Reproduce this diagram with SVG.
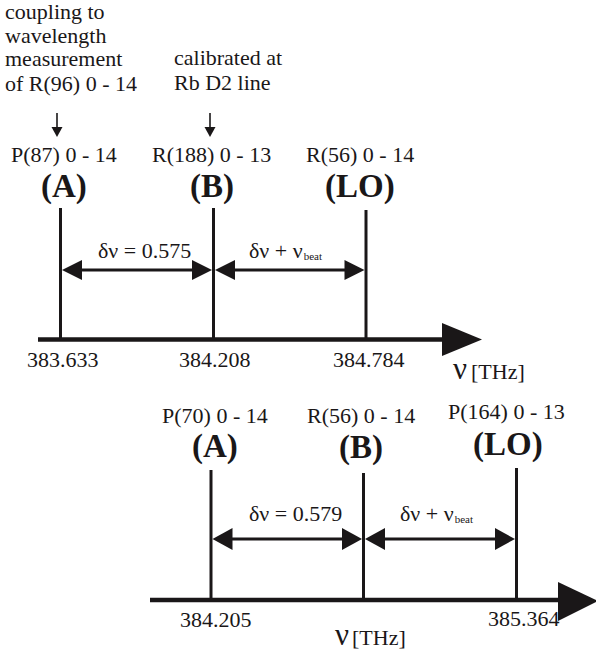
<svg xmlns="http://www.w3.org/2000/svg" width="596" height="652" viewBox="0 0 596 652" font-family="Liberation Serif, Times New Roman, serif">
<style>
  text { font-family: 'Liberation Serif', 'Times New Roman', serif; fill: #1a1718; }
  .t { font-size: 22px; }
  .b { font-size: 33px; font-weight: bold; }
  .nu { font-size: 31px; }
  .sub { font-size: 11px; }
  .line { stroke: #1a1718; stroke-width: 3; fill: none; }
  .axis { stroke: #1a1718; stroke-width: 4.5; fill: none; }
  .dim { stroke: #1a1718; stroke-width: 3; fill: none; }
  .thin { stroke: #1a1718; stroke-width: 1.6; fill: none; }
  .head { fill: #1a1718; }
</style>
<rect width="596" height="652" fill="#ffffff"/>

<!-- Annotations -->
<g id="note-coupling">
  <text class="t" x="5" y="18.5">coupling to</text>
  <text class="t" x="5" y="42.5">wavelength</text>
  <text class="t" x="5" y="66">measurement</text>
  <text class="t" x="5" y="90.5">of R(96) 0 - 14</text>
</g>
<g id="note-calibrated">
  <text class="t" x="174" y="65">calibrated at</text>
  <text class="t" x="174" y="89.5">Rb D2 line</text>
</g>

<!-- Diagram 1 nodes -->
<g id="d1-A">
  <text class="t" x="11" y="162">P(87) 0 - 14</text>
  <text class="b" x="41" y="197">(A)</text>
  <line class="line" x1="60.5" y1="208" x2="60.5" y2="339"/>
  <text class="t" x="27" y="367">383.633</text>
</g>
<g id="d1-B">
  <text class="t" x="152" y="162">R(188) 0 - 13</text>
  <text class="b" x="190" y="197">(B)</text>
  <line class="line" x1="213.5" y1="208" x2="213.5" y2="339"/>
  <text class="t" x="179" y="367">384.208</text>
</g>
<g id="d1-LO">
  <text class="t" x="306" y="162">R(56) 0 - 14</text>
  <text class="b" x="325" y="197">(LO)</text>
  <line class="line" x1="366" y1="210" x2="366" y2="339"/>
  <text class="t" x="333" y="367">384.784</text>
</g>
<g id="d1-axis">
  <line class="axis" x1="38" y1="339.5" x2="444" y2="339.5"/>
  <polygon class="head" points="442,323 482,339.5 442,356"/>
  <text x="453" y="379"><tspan class="nu">ν</tspan><tspan class="t" dx="4">[THz]</tspan></text>
</g>

<!-- Diagram 2 nodes -->
<g id="d2-A">
  <text class="t" x="162" y="423">P(70) 0 - 14</text>
  <text class="b" x="192" y="457">(A)</text>
  <line class="line" x1="211" y1="470" x2="211" y2="600"/>
  <text class="t" x="180" y="627">384.205</text>
</g>
<g id="d2-B">
  <text class="t" x="307" y="423">R(56) 0 - 14</text>
  <text class="b" x="339" y="458">(B)</text>
  <line class="line" x1="363.5" y1="473" x2="363.5" y2="600"/>
</g>
<g id="d2-LO">
  <text class="t" x="448" y="419">P(164) 0 - 13</text>
  <text class="b" x="473" y="455">(LO)</text>
  <line class="line" x1="516.5" y1="468" x2="516.5" y2="600"/>
  <text class="t" x="488" y="626">385.364</text>
</g>
<g id="d2-axis">
  <line class="axis" x1="150" y1="600" x2="562" y2="600"/>
  <polygon class="head" points="558,582 598,601 558,621"/>
  <text x="335" y="645"><tspan class="nu">ν</tspan><tspan class="t" dx="3">[THz]</tspan></text>
</g>

<!-- Connectors -->
<g id="connectors">
  <line class="thin" x1="57" y1="113" x2="57" y2="128"/>
  <polygon class="head" points="51.5,127 62.5,127 57,137"/>
  <line class="thin" x1="210" y1="113" x2="210" y2="128"/>
  <polygon class="head" points="204.5,127 215.5,127 210,137"/>

  <line class="dim" x1="78" y1="270" x2="195" y2="270"/>
  <polygon class="head" points="62,270 82,260 82,280"/>
  <polygon class="head" points="212,270 192,260 192,280"/>
  <text class="t" x="98" y="258">δν = 0.575</text>

  <line class="dim" x1="232" y1="270" x2="348" y2="270"/>
  <polygon class="head" points="215,270 235,260 235,280"/>
  <polygon class="head" points="364.5,270 344.5,260 344.5,280"/>
  <text class="t" x="249" y="258">δν + ν<tspan class="sub" dx="1" dy="2">beat</tspan></text>

  <line class="dim" x1="229" y1="539" x2="345" y2="539"/>
  <polygon class="head" points="212.5,539 232.5,528 232.5,550"/>
  <polygon class="head" points="362,539 342,528 342,550"/>
  <text class="t" x="249" y="521">δν = 0.579</text>

  <line class="dim" x1="382" y1="539" x2="498" y2="539"/>
  <polygon class="head" points="365,539 385,528 385,550"/>
  <polygon class="head" points="515,539 495,528 495,550"/>
  <text class="t" x="400" y="521">δν + ν<tspan class="sub" dx="1" dy="2">beat</tspan></text>
</g>
</svg>
